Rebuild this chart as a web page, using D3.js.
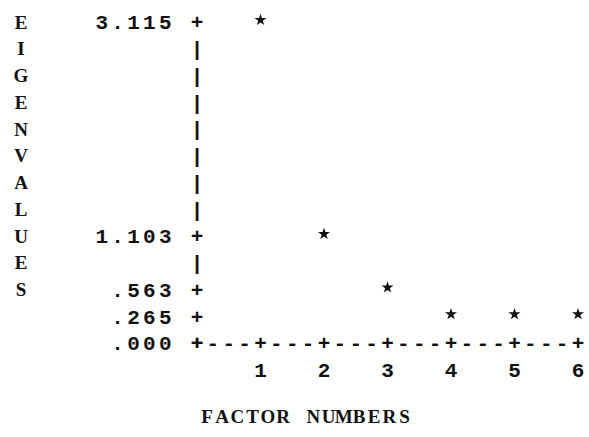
<!DOCTYPE html>
<html>
<head>
<meta charset="utf-8">
<script src="https://cdn.jsdelivr.net/npm/d3@7"></script>
<style>
  body { margin: 0; background: #fff; }
  text { font-family: "Liberation Mono", "DejaVu Sans Mono", monospace; fill: #111; font-weight: bold; }
  text.word { font-family: "Liberation Serif", "DejaVu Serif", serif; font-weight: bold; }
</style>
</head>
<body>
<svg id="chart"></svg>
<script>
// data
var factors = [1, 2, 3, 4, 5, 6];
var eigenvalues = [3.115, 1.103, 0.563, 0.265, 0.265, 0.265];
var yTicks = [3.115, 1.103, 0.563, 0.265, 0];
var yTickLabels = ["3.115", "1.103", ".563", ".265", ".000"];
var yTitle = "EIGENVALUES";
var xTitle = "FACTOR NUMBERS";

var width = 589, height = 437;
var fs = 21;

var svg = d3.select("#chart")
	.attr("width", width)
	.attr("height", height);

// x in factor units, y in printer rows (0 = top row, 12 = axis row)
var x = d3.scaleLinear().domain([0, 6]).range([197, 578]);
var rowOf = d3.scaleLinear().domain([0, 3.115]).range([12, 0]);
var rowY = d3.scaleLinear().domain([0, 12]).range([22, 343]);
var y = function(v) { return rowY(Math.round(rowOf(v))); };
var cw = (x(1) - x(0)) / 4; // one character cell

// write a string one character per cell, first cell centred at cx
var chars = function(str, cx, cy, step, cls, size) {
	var g = svg.append("g");
	g.selectAll("text")
		.data(str.split(""))
		.enter().append("text")
		.attr("class", cls || null)
		.attr("x", function(d, i) { return cx + i * step; })
		.attr("y", cy)
		.attr("dy", "0.35em")
		.attr("text-anchor", "middle")
		.style("font-size", (size || fs) + "px")
		.text(function(d) { return d; });
	return g;
};

/* vertical axis title, one letter per row */
yTitle.split("").forEach(function(c, i) {
	chars(c, 21, rowY(i), cw, "word", 19);
});

/* y axis: '+' at ticks, '|' on the other rows */
var tickRows = yTicks.map(function(v) { return Math.round(rowOf(v)); });
d3.range(0, 12).forEach(function(r) {
	if (tickRows.indexOf(r) < 0) chars("|", x(0), rowY(r), cw);
});
yTicks.forEach(function(v, i) {
	chars("+", x(0), y(v), cw);
	var lab = yTickLabels[i];
	chars(lab, x(0) - (lab.length + 1) * cw, y(v), cw);
});

/* x axis: '+' at each factor, '---' between */
var axisLine = "+";
factors.forEach(function() { axisLine += "---+"; });
chars(axisLine, x(0), y(0), cw);

factors.forEach(function(f) {
	chars(String(f), x(f), rowY(13), cw);
});

chars(xTitle, 207, 416, 15.2, "word", 19);

/* points */
svg.append("g").selectAll("path")
	.data(eigenvalues)
	.enter().append("path")
	.attr("d", d3.symbol().type(d3.symbolStar).size(45))
	.attr("transform", function(d, i) {
		return "translate(" + x(factors[i]) + "," + (y(d) - 2) + ")";
	})
	.attr("fill", "#111");
</script>
</body>
</html>
